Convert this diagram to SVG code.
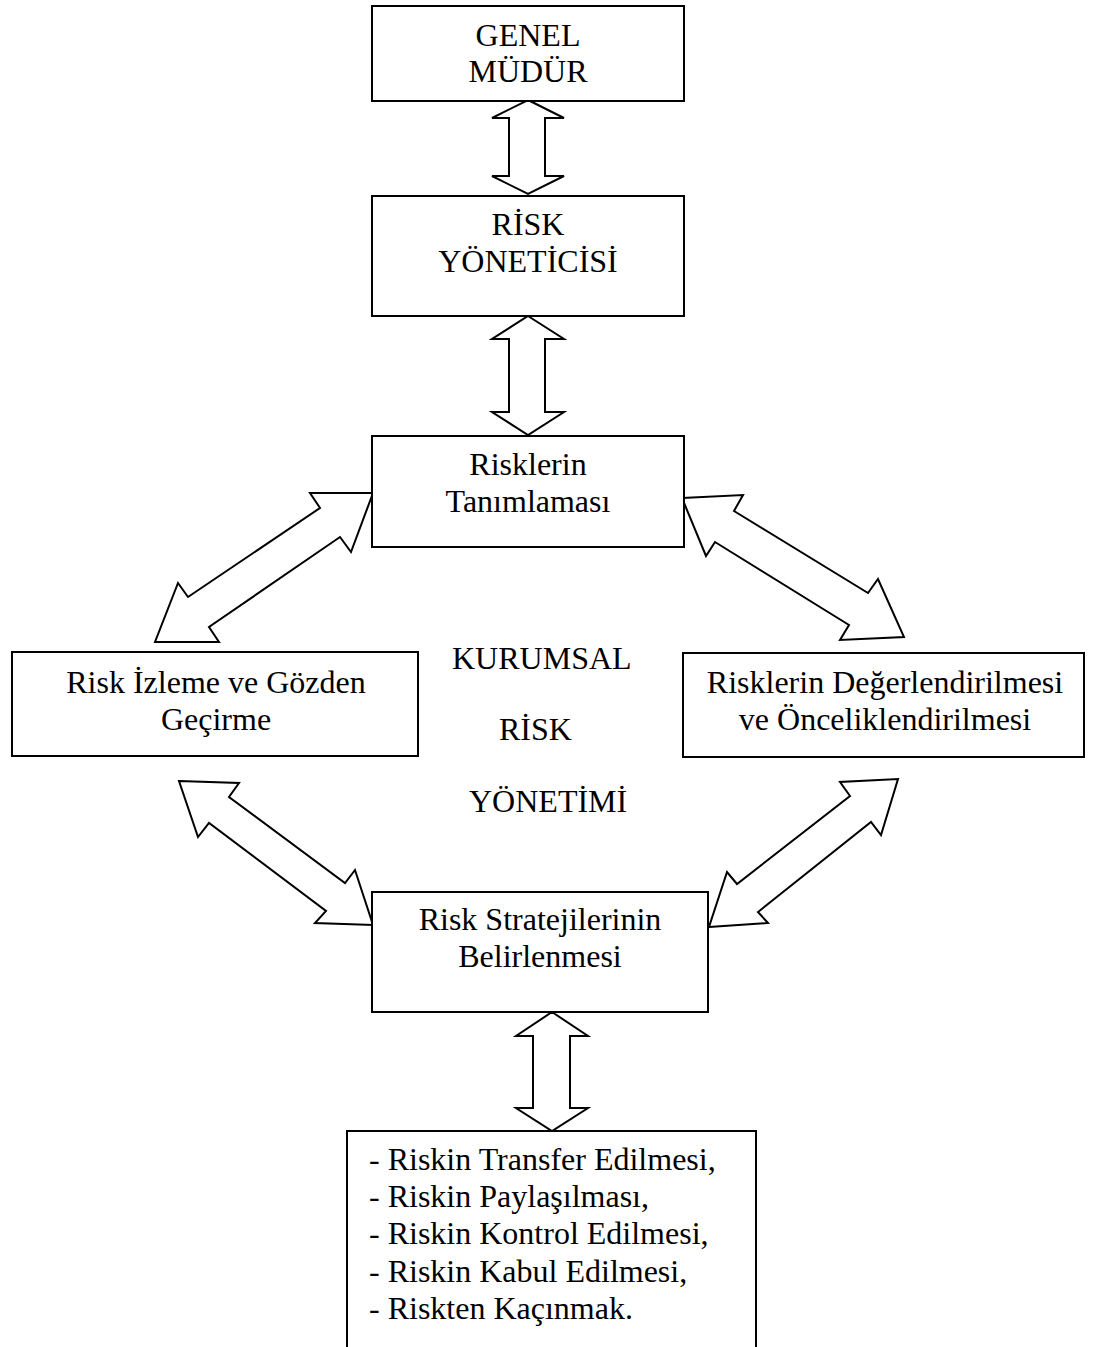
<svg xmlns="http://www.w3.org/2000/svg" width="1095" height="1347" viewBox="0 0 1095 1347">
<style>
.box{fill:#fff;stroke:#000;stroke-width:2}
.arr{fill:#fff;stroke:#000;stroke-width:2;stroke-linejoin:miter}
text{font-family:"Liberation Serif","Times New Roman",serif;font-size:32px;fill:#000}
.c{text-anchor:middle}
</style>
<rect width="1095" height="1347" fill="#fff"/>
<g id="connectors">
<polygon class="arr" points="528,100 564,118 545,118 545,176 564,176 528,194 492,176 509,176 509,118 492,118"/>
<polygon class="arr" points="528,316 564,339 545,339 545,412 564,412 528,435 492,412 509,412 509,339 492,339"/>
<polygon class="arr" points="373,493 310,493 320,508 188,597 178,583 155,642 219,642 209,627 340,537 351,552"/>
<polygon class="arr" points="682,498 743,495 734,511 868,593 878,579 904,637 840,640 849,625 715,542 706,556"/>
<polygon class="arr" points="179,781 239,783 229,797 345,883 355,870 373,925 315,923 326,911 209,823 198,837"/>
<polygon class="arr" points="709,927 768,923 758,912 871,822 881,835 898,779 840,782 850,796 737,884 727,872"/>
<polygon class="arr" points="552,1012 588,1036 570,1036 570,1108 588,1108 552,1131 516,1108 533,1108 533,1036 516,1036"/>
</g>
<g id="genel-mudur">
<rect class="box" x="372" y="6" width="312" height="95"/>
<text class="c" x="528" y="46">GENEL</text>
<text class="c" x="528" y="82">MÜDÜR</text>
</g>
<g id="risk-yoneticisi">
<rect class="box" x="372" y="196" width="312" height="120"/>
<text class="c" x="528" y="235">RİSK</text>
<text class="c" x="528" y="272">YÖNETİCİSİ</text>
</g>
<g id="risklerin-tanimlamasi">
<rect class="box" x="372" y="436" width="312" height="111"/>
<text class="c" x="528" y="475">Risklerin</text>
<text class="c" x="528" y="512">Tanımlaması</text>
</g>
<g id="risk-izleme">
<rect class="box" x="12" y="652" width="406" height="104"/>
<text class="c" x="216" y="693">Risk İzleme ve Gözden</text>
<text class="c" x="216" y="730">Geçirme</text>
</g>
<g id="risklerin-degerlendirilmesi">
<rect class="box" x="683" y="653" width="401" height="104"/>
<text class="c" x="885" y="693">Risklerin Değerlendirilmesi</text>
<text class="c" x="885" y="730">ve Önceliklendirilmesi</text>
</g>
<g id="kurumsal-risk-yonetimi">
<text x="452" y="669">KURUMSAL</text>
<text x="499" y="740">RİSK</text>
<text x="469" y="812">YÖNETİMİ</text>
</g>
<g id="risk-stratejileri">
<rect class="box" x="372" y="892" width="336" height="120"/>
<text class="c" x="540" y="930">Risk Stratejilerinin</text>
<text class="c" x="540" y="967">Belirlenmesi</text>
</g>
<g id="strateji-listesi">
<rect class="box" x="347" y="1131" width="409" height="240"/>
<text x="369" y="1170">- Riskin Transfer Edilmesi,</text>
<text x="369" y="1207">- Riskin Paylaşılması,</text>
<text x="369" y="1244">- Riskin Kontrol Edilmesi,</text>
<text x="369" y="1282">- Riskin Kabul Edilmesi,</text>
<text x="369" y="1319">- Riskten Kaçınmak.</text>
</g>
</svg>
